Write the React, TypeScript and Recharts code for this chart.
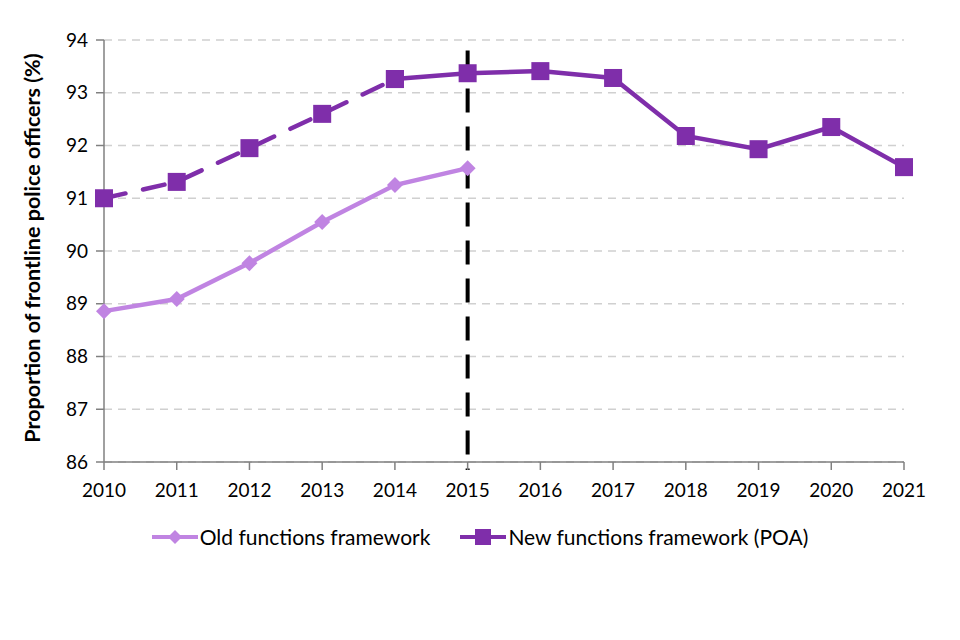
import React from 'react';
import {
  LineChart,
  Line,
  XAxis,
  YAxis,
  CartesianGrid,
  ReferenceLine,
  Legend,
} from 'recharts';

const years = [2010, 2011, 2012, 2013, 2014, 2015, 2016, 2017, 2018, 2019, 2020, 2021];
const oldFramework = [88.86, 89.09, 89.77, 90.55, 91.25, 91.57, null, null, null, null, null, null];
const newFramework = [91.0, 91.31, 91.95, 92.6, 93.26, 93.37, 93.41, 93.28, 92.18, 91.93, 92.35, 91.59];
const yTicks = [86, 87, 88, 89, 90, 91, 92, 93, 94];

// the new series is dashed up to 2014, solid from 2014 on
const DASH_UNTIL = 2014;
const BREAK_YEAR = 2015;

const OLD_COLOR = '#C084E2';
const NEW_COLOR = '#7F2EAA';
const FONT = 'Lato, "Open Sans", sans-serif';

const data = years.map((year, i) => ({
  year,
  old: oldFramework[i],
  newDashed: year <= DASH_UNTIL ? newFramework[i] : null,
  newSolid: year >= DASH_UNTIL ? newFramework[i] : null,
}));

const Diamond = (props: any) => {
  const { cx, cy } = props;
  if (cx == null || cy == null || props.value == null) return null;
  const r = 8;
  return (
    <polygon
      key={props.key}
      points={`${cx},${cy - r} ${cx + r},${cy} ${cx},${cy + r} ${cx - r},${cy}`}
      fill={OLD_COLOR}
    />
  );
};

const Square = (props: any) => {
  const { cx, cy } = props;
  if (cx == null || cy == null || props.value == null) return null;
  const s = 9;
  return <rect key={props.key} x={cx - s} y={cy - s} width={s * 2} height={s * 2} fill={NEW_COLOR} />;
};

const LegendContent = () => (
  <div
    style={{
      display: 'flex',
      justifyContent: 'center',
      gap: 30,
      paddingLeft: 56,
      fontFamily: FONT,
      fontSize: 21,
      color: '#000',
    }}
  >
    <div style={{ display: 'flex', alignItems: 'center' }}>
      <svg width={46} height={20}>
        <line x1={0} y1={10} x2={46} y2={10} stroke={OLD_COLOR} strokeWidth={4} />
        <polygon points="23,3 30,10 23,17 16,10" fill={OLD_COLOR} />
      </svg>
      <span style={{ marginLeft: 2 }}>Old functions framework</span>
    </div>
    <div style={{ display: 'flex', alignItems: 'center' }}>
      <svg width={46} height={20}>
        <line x1={0} y1={10} x2={46} y2={10} stroke={NEW_COLOR} strokeWidth={4} />
        <rect x={15} y={2} width={16} height={16} fill={NEW_COLOR} />
      </svg>
      <span style={{ marginLeft: 2 }}>New functions framework (POA)</span>
    </div>
  </div>
);

export default function App() {
  return (
    <div style={{ position: 'absolute', left: 0, top: 0, width: 960, height: 640, background: '#fff' }}>
      <LineChart width={960} height={640} data={data} margin={{ top: 40, right: 56, left: 0, bottom: 0 }}>
        <CartesianGrid vertical={false} stroke="#D0D0D0" strokeDasharray="8 6" strokeWidth={1.5} />
        <XAxis
          dataKey="year"
          type="number"
          domain={[2010, 2021]}
          ticks={years}
          height={62}
          stroke="#808080"
          strokeWidth={1.5}
          tickSize={8}
          tick={{ fill: '#000', fontSize: 19, fontFamily: FONT }}
          tickMargin={14}
        />
        <YAxis
          domain={[86, 94]}
          ticks={yTicks}
          width={104}
          stroke="#808080"
          strokeWidth={1.5}
          tickSize={8}
          tick={{ fill: '#000', fontSize: 19, fontFamily: FONT }}
          tickMargin={8}
          label={{
            value: 'Proportion of frontline police officers (%)',
            angle: -90,
            position: 'center',
            dx: -20,
            dy: -3,
            style: { fill: '#000', fontSize: 21.5, fontWeight: 700, fontFamily: FONT },
          }}
        />
        <Legend verticalAlign="bottom" height={116} content={<LegendContent />} />
        <Line
          dataKey="old"
          stroke={OLD_COLOR}
          strokeWidth={4.5}
          dot={<Diamond />}
          activeDot={false}
          isAnimationActive={false}
        />
        <Line
          dataKey="newDashed"
          stroke={NEW_COLOR}
          strokeWidth={4.5}
          strokeDasharray="22 18"
          strokeLinecap="round"
          dot={<Square />}
          activeDot={false}
          isAnimationActive={false}
        />
        <Line
          dataKey="newSolid"
          stroke={NEW_COLOR}
          strokeWidth={4.5}
          dot={<Square />}
          activeDot={false}
          isAnimationActive={false}
        />
        <ReferenceLine
          stroke="#000"
          strokeWidth={4}
          strokeDasharray="24 14"
          segment={[
            { x: BREAK_YEAR, y: 93.8 },
            { x: BREAK_YEAR, y: 85.85 },
          ]}
          ifOverflow="visible"
        />
      </LineChart>
    </div>
  );
}
